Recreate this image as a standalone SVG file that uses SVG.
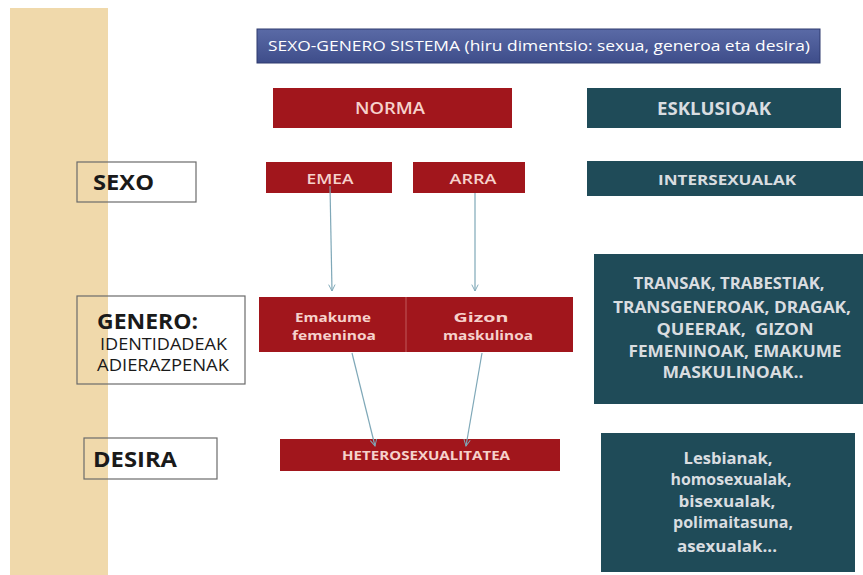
<svg xmlns="http://www.w3.org/2000/svg" width="863" height="575" viewBox="0 0 863 575">
<defs>
<linearGradient id="gBlue" x1="0" y1="0" x2="0" y2="1">
<stop offset="0" stop-color="#5a6aa6"/>
<stop offset="1" stop-color="#3e4d8a"/>
</linearGradient>
<marker id="arr" viewBox="0 0 10 10" refX="9" refY="5" markerWidth="8" markerHeight="8" orient="auto" markerUnits="userSpaceOnUse">
<path d="M1,1 L9,5 L1,9" fill="none" stroke="#7fa8b8" stroke-width="1.2"/>
</marker>
<style>
.red{fill:#a1161c;}
.teal{fill:#1f4b58;}
.lbl{fill:none;stroke:#6b6b6b;stroke-width:1.2;}
.tw{font-family:"Open Sans","DejaVu Sans",sans-serif;fill:#f6d2cc;text-anchor:middle;font-weight:600;}
.tw.b{font-weight:bold;}
.tb{font-family:"Open Sans","Lato",sans-serif;font-weight:bold;fill:#d9dde0;text-anchor:middle;white-space:pre;}
.tk{font-family:"Open Sans","DejaVu Sans",sans-serif;fill:#1a1a1a;}
.conn{stroke:#7fa8b8;stroke-width:1.2;fill:none;marker-end:url(#arr);}
</style>
</defs>
<rect width="863" height="575" fill="#ffffff"/>
<rect x="10" y="8" width="98" height="567" fill="#f0d9ab"/>

<g id="title">
<rect x="257" y="29" width="563" height="34" fill="url(#gBlue)" stroke="#2e3a6e" stroke-width="1"/>
<text x="539" y="51" font-family="Open Sans, DejaVu Sans, sans-serif" font-size="14" fill="#ffffff" text-anchor="middle" textLength="542" lengthAdjust="spacingAndGlyphs">SEXO-GENERO SISTEMA (hiru dimentsio: sexua, generoa eta desira)</text>
</g>

<g id="norma">
<rect class="red" x="273" y="88" width="239" height="40"/>
<text class="tw" x="390" y="114" font-size="16" textLength="70" lengthAdjust="spacingAndGlyphs">NORMA</text>
</g>

<g id="esklusioak">
<rect class="teal" x="587" y="88" width="254" height="40"/>
<text class="tb" x="714" y="115" font-size="17" textLength="114" lengthAdjust="spacingAndGlyphs">ESKLUSIOAK</text>
</g>

<g id="sexo">
<rect class="lbl" x="77" y="162" width="119" height="40"/>
<text class="tk" x="93" y="190" font-size="21" font-weight="bold" textLength="61" lengthAdjust="spacingAndGlyphs">SEXO</text>
</g>

<g id="emea">
<rect class="red" x="266" y="162" width="126" height="31"/>
<text class="tw" x="330" y="184" font-size="15" textLength="47" lengthAdjust="spacingAndGlyphs">EMEA</text>
</g>

<g id="arra">
<rect class="red" x="413" y="162" width="112" height="31"/>
<text class="tw" x="473" y="184" font-size="15" textLength="47" lengthAdjust="spacingAndGlyphs">ARRA</text>
</g>

<g id="intersexualak">
<rect class="teal" x="587" y="161" width="276" height="35"/>
<text class="tb" x="727" y="185" font-size="15" textLength="138" lengthAdjust="spacingAndGlyphs">INTERSEXUALAK</text>
</g>

<g id="genero">
<rect class="lbl" x="77" y="296" width="168" height="88"/>
<text class="tk" x="97" y="329" font-size="21" font-weight="bold" textLength="101" lengthAdjust="spacingAndGlyphs">GENERO:</text>
<text class="tk" x="100" y="350" font-size="16" textLength="127" lengthAdjust="spacingAndGlyphs">IDENTIDADEAK</text>
<text class="tk" x="97" y="371" font-size="16" textLength="132" lengthAdjust="spacingAndGlyphs">ADIERAZPENAK</text>
</g>

<g id="emakume">
<rect class="red" x="259" y="297" width="147" height="55"/>
<text class="tw b" x="333" y="322" font-size="13" textLength="76" lengthAdjust="spacingAndGlyphs">Emakume</text>
<text class="tw b" x="334" y="340" font-size="13" textLength="84" lengthAdjust="spacingAndGlyphs">femeninoa</text>
</g>

<g id="gizon">
<rect class="red" x="406" y="297" width="167" height="55"/>
<line x1="406" y1="297" x2="406" y2="352" stroke="#c0585a" stroke-width="1"/>
<text class="tw b" x="481" y="322" font-size="13" textLength="55" lengthAdjust="spacingAndGlyphs">Gizon</text>
<text class="tw b" x="488" y="340" font-size="13" textLength="90" lengthAdjust="spacingAndGlyphs">maskulinoa</text>
</g>

<g id="transak">
<rect class="teal" x="594" y="254" width="269" height="150"/>
<text class="tb" x="729" y="289" font-size="16" textLength="191" lengthAdjust="spacingAndGlyphs">TRANSAK, TRABESTIAK,</text>
<text class="tb" x="732" y="313" font-size="16" textLength="238" lengthAdjust="spacingAndGlyphs">TRANSGENEROAK, DRAGAK,</text>
<text class="tb" x="735" y="335" font-size="16" textLength="157" lengthAdjust="spacingAndGlyphs">QUEERAK,  GIZON</text>
<text class="tb" x="735" y="357" font-size="16" textLength="213" lengthAdjust="spacingAndGlyphs">FEMENINOAK, EMAKUME</text>
<text class="tb" x="733" y="378" font-size="16" textLength="141" lengthAdjust="spacingAndGlyphs">MASKULINOAK..</text>
</g>

<g id="desira">
<rect class="lbl" x="84" y="438" width="133" height="41"/>
<text class="tk" x="93" y="467" font-size="21" font-weight="bold" textLength="84" lengthAdjust="spacingAndGlyphs">DESIRA</text>
</g>

<g id="heterosexualitatea">
<rect class="red" x="280" y="439" width="280" height="32"/>
<text class="tw b" x="426" y="460" font-size="13" textLength="168" lengthAdjust="spacingAndGlyphs">HETEROSEXUALITATEA</text>
</g>

<g id="lesbianak">
<rect class="teal" x="601" y="433" width="254" height="139"/>
<text class="tb" x="728" y="464" font-size="15.5" textLength="89" lengthAdjust="spacingAndGlyphs">Lesbianak,</text>
<text class="tb" x="731" y="485" font-size="15.5" textLength="121" lengthAdjust="spacingAndGlyphs">homosexualak,</text>
<text class="tb" x="727" y="507" font-size="15.5" textLength="97" lengthAdjust="spacingAndGlyphs">bisexualak,</text>
<text class="tb" x="733" y="528" font-size="15.5" textLength="120" lengthAdjust="spacingAndGlyphs">polimaitasuna,</text>
<text class="tb" x="727" y="552" font-size="15.5" textLength="100" lengthAdjust="spacingAndGlyphs">asexualak...</text>
</g>

<g id="connectors">
<line class="conn" x1="330" y1="186" x2="332" y2="291"/>
<line class="conn" x1="475" y1="193" x2="475" y2="291"/>
<line class="conn" x1="352" y1="353" x2="375" y2="446"/>
<line class="conn" x1="482" y1="353" x2="466" y2="446"/>
</g>
</svg>
